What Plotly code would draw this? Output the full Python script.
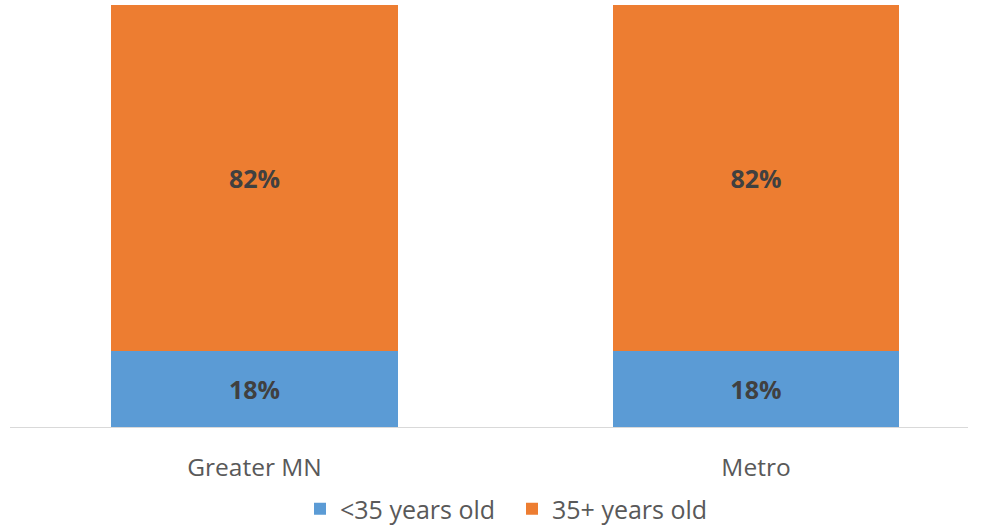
import plotly.graph_objects as go

# Age split of respondents by region (percent)
regions = ["Greater MN", "Metro"]
under_35 = [18, 18]
age_35_plus = [82, 82]
series_names = ["<35 years old", "35+ years old"]
series_colors = ["#5B9BD5", "#ED7D31"]

fig = go.Figure()
for name, vals, color in zip(series_names, [under_35, age_35_plus], series_colors):
    fig.add_trace(go.Bar(
        x=regions,
        y=vals,
        name=name,
        marker=dict(color=color, line=dict(width=0)),
        width=0.572,
        text=[f"{v}%" for v in vals],
        textposition="inside",
        insidetextanchor="middle",
        textfont=dict(family="Open Sans", size=25, color="#404040", weight="bold"),
        hoverinfo="skip",
    ))

fig.update_layout(
    barmode="stack",
    width=1002,
    height=529,
    margin=dict(l=10, r=34, t=5, b=101.5, autoexpand=False),
    paper_bgcolor="white",
    plot_bgcolor="white",
    showlegend=True,
    legend=dict(
        orientation="h",
        xref="container", yref="container",
        x=0.511, xanchor="center",
        y=(529 - 509) / 529, yanchor="middle",
        font=dict(family="Open Sans", size=25, color="#595959"),
        traceorder="normal",
        itemwidth=30,
        entrywidth=167,
    ),
    xaxis=dict(
        range=[-0.4875, 1.4227],
        showline=True,
        linecolor="#D9D9D9",
        linewidth=1,
        ticks="",
        automargin=False,
        tickfont=dict(family="Open Sans", size=24.5, color="#595959"),
        ticklabelstandoff=19,
    ),
    yaxis=dict(
        range=[0, 100],
        visible=False,
        showgrid=False,
    ),
)

fig.write_html("out.html")
